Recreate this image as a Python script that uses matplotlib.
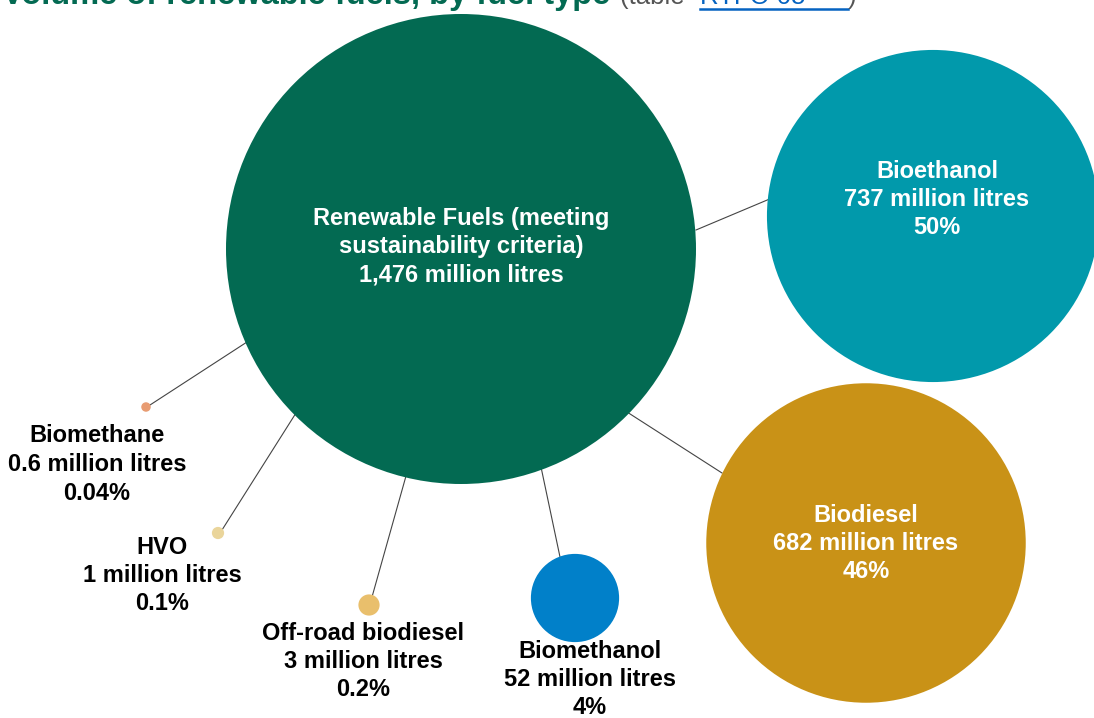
import matplotlib
matplotlib.use("Agg")
import matplotlib.pyplot as plt
from matplotlib.patches import Circle
import numpy as np

plt.rcParams['font.family'] = ['Liberation Sans', 'DejaVu Sans']

# Data
names = ["Renewable Fuels (meeting\nsustainability criteria)", "Bioethanol", "Biodiesel",
         "Biomethanol", "Off-road biodiesel", "HVO", "Biomethane"]
volumes = [1476, 737, 682, 52, 3, 1, 0.6]
volume_labels = ["1,476 million litres", "737 million litres", "682 million litres",
                 "52 million litres", "3 million litres", "1 million litres", "0.6 million litres"]
shares = ["", "50%", "46%", "4%", "0.2%", "0.1%", "0.04%"]

# Layout (pixel space)
centers = [(461, 249), (933, 216), (866, 543), (575, 598), (369, 605), (218, 533), (146, 407)]
colors = ["#036A52", "#0199AB", "#C99217", "#0180C9", "#E9BF6C", "#EAD59B", "#E89C72"]
label_pos = [(461, 218), (937, 171), (866, 515), (590, 651), (363, 633), (162, 547), (97, 436)]
label_color = ["white", "white", "white", "black", "black", "black", "black"]
connectors = [((696, 230), (772, 198)), ((627, 412), (722, 473)), ((541, 467), (560, 557)),
              ((406, 476), (372, 597)), ((296, 413), (222, 530)), ((247, 342), (150, 405))]

W, H = 1094, 718
fig = plt.figure(figsize=(W / 100, H / 100), dpi=100)
ax = fig.add_axes([0, 0, 1, 1])
ax.set_xlim(0, W)
ax.set_ylim(H, 0)
ax.set_aspect('equal')
ax.axis('off')

k = 235 / np.sqrt(volumes[0])
for (p0, p1) in connectors:
    ax.plot([p0[0], p1[0]], [p0[1], p1[1]], color="#444444", lw=0.8, zorder=1)

for c, v, col in zip(centers, volumes, colors):
    ax.add_patch(Circle(c, k * np.sqrt(v), facecolor=col, edgecolor='none', zorder=2))

for i, (n, vl, s) in enumerate(zip(names, volume_labels, shares)):
    lines = n.split("\n") + [vl] + ([s] if s else [])
    x, y0 = label_pos[i]
    for j, line in enumerate(lines):
        ax.text(x, y0 + j * 28.5, line, ha='center', va='center', fontsize=17,
                fontweight='bold', color=label_color[i], zorder=3)

# Title (cut off at top, as in the reference)
ax.text(2, 4, "Volume of renewable fuels, by fuel type", ha='left', va='baseline',
        fontsize=23.5, fontweight='bold', color="#036A52")
ax.text(620, 4, "(table ", ha='left', va='baseline', fontsize=18.5, color="#555555")
ax.text(700, 4, "RTFO 05", ha='left', va='baseline', fontsize=18.5, color="#0563C1")
ax.plot([700, 848], [9, 9], color="#0563C1", lw=1.8)
ax.text(848, 4, ")", ha='left', va='baseline', fontsize=18.5, color="#555555")

fig.savefig("out.png", dpi=100)
